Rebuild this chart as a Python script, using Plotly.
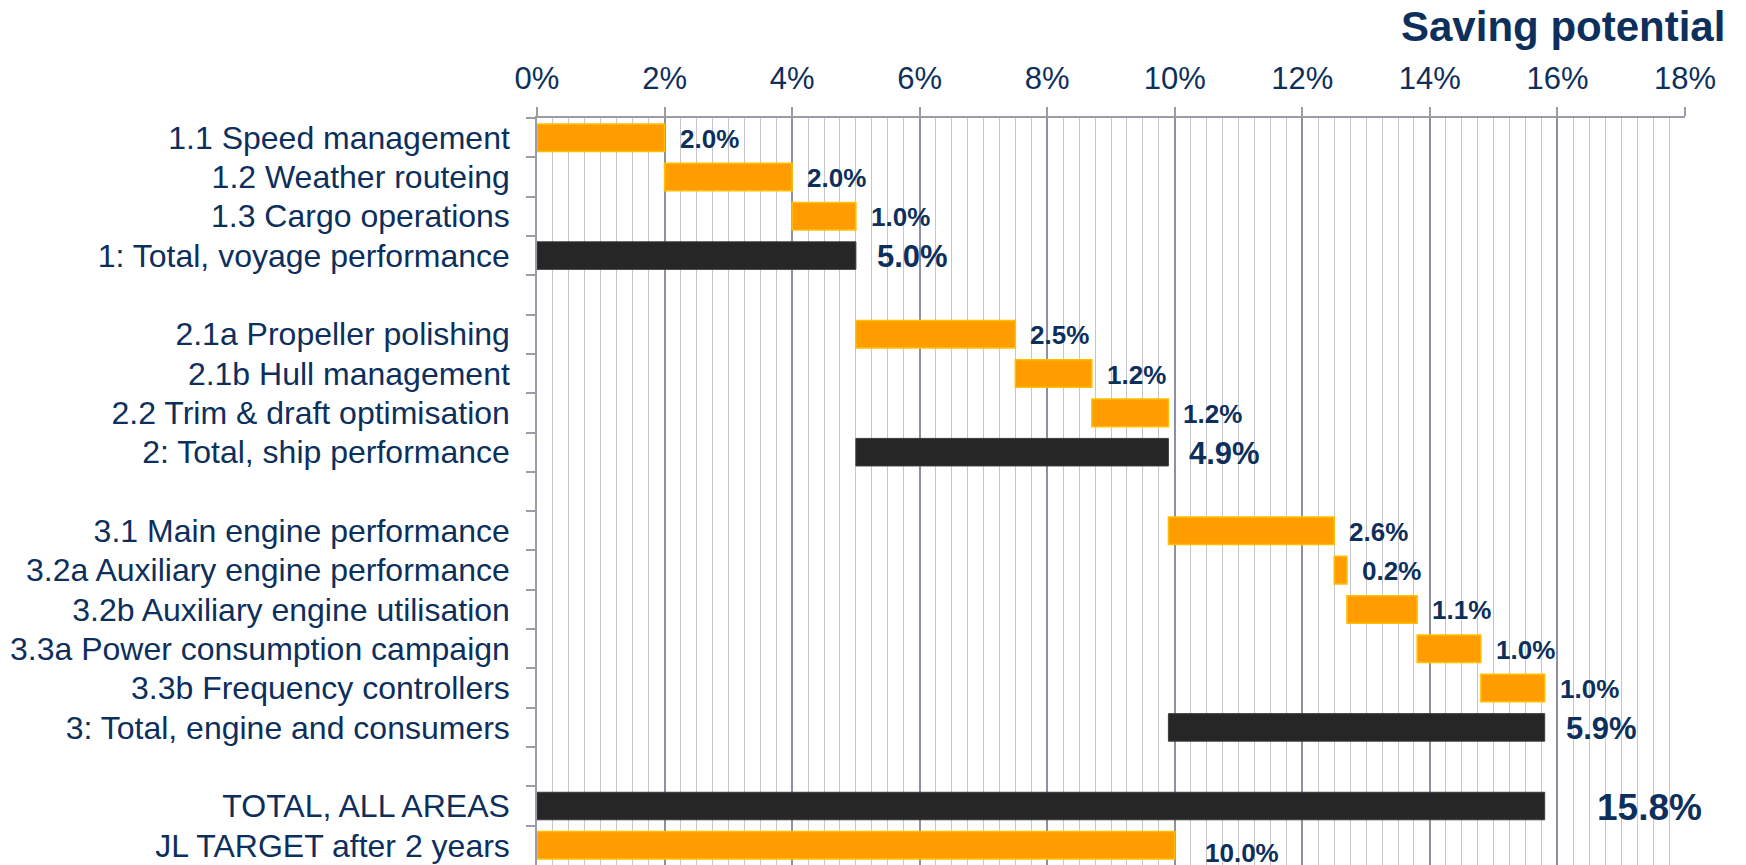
import plotly.graph_objects as go

# Savings measures, in display order (blank entries separate the groups)
measures = [
    "1.1 Speed management",
    "1.2 Weather routeing",
    "1.3 Cargo operations",
    "1: Total, voyage performance",
    "\u200b",
    "2.1a Propeller polishing",
    "2.1b Hull management",
    "2.2 Trim & draft optimisation",
    "2: Total, ship performance",
    "\u200b\u200b",
    "3.1 Main engine performance",
    "3.2a Auxiliary engine performance",
    "3.2b Auxiliary engine utilisation",
    "3.3a Power consumption campaign",
    "3.3b Frequency controllers",
    "3: Total, engine and consumers",
    "\u200b\u200b\u200b",
    "TOTAL, ALL AREAS",
    "JL TARGET after 2 years",
]

# Saving potential in percent (None for spacer rows)
savings = [2.0, 2.0, 1.0, 5.0, None,
           2.5, 1.2, 1.2, 4.9, None,
           2.6, 0.2, 1.1, 1.0, 1.0, 5.9, None,
           15.8, 10.0]

# Row type: step = single measure, subtotal = group total,
# total = all areas, target = company target, gap = spacer
kinds = ["step", "step", "step", "subtotal", "gap",
         "step", "step", "step", "subtotal", "gap",
         "step", "step", "step", "step", "step", "subtotal", "gap",
         "total", "target"]

x_ticks = list(range(0, 19, 2))

# Waterfall bases: steps stack on each other, subtotals span their group
bases = []
running = 0.0
group_start = 0.0
for val, kind in zip(savings, kinds):
    if kind == "step":
        bases.append(running)
        running = round(running + val, 4)
    elif kind == "subtotal":
        bases.append(group_start)
        group_start = running
    elif kind in ("total", "target"):
        bases.append(0.0)
    else:
        bases.append(None)

NAVY = "#0d2f5c"
ORANGE = "#FF9C00"
ORANGE_EDGE = "#FFC000"
DARK = "#262626"
FONT = "Liberation Sans, Arial, sans-serif"

label_style = {
    "step": dict(size=26, shift=13),
    "subtotal": dict(size=31, shift=19),
    "total": dict(size=37, shift=50),
    "target": dict(size=26, shift=28),
}

fig = go.Figure()

def add_bars(selected, color, edge, edge_w):
    idx = [i for i, k in enumerate(kinds) if k in selected]
    fig.add_trace(go.Bar(
        y=[measures[i] for i in idx],
        x=[savings[i] for i in idx],
        base=[bases[i] for i in idx],
        orientation="h",
        marker=dict(color=color, line=dict(color=edge, width=edge_w)),
        hoverinfo="skip",
        showlegend=False,
    ))

add_bars(("step", "target"), ORANGE, ORANGE_EDGE, 1.5)
add_bars(("subtotal", "total"), DARK, "#3c3c3c", 1)

# Value labels to the right of each bar
for name, val, base, kind in zip(measures, savings, bases, kinds):
    if kind == "gap":
        continue
    st = label_style[kind]
    fig.add_annotation(
        x=base + val, y=name, xref="x", yref="y",
        text=f"<b>{val:.1f}%</b>",
        showarrow=False, xanchor="left", yanchor="middle",
        xshift=st["shift"], yshift=-8 if kind == "target" else -1,
        font=dict(family=FONT, size=st["size"], color=NAVY),
    )

fig.add_annotation(
    text="<b>Saving potential</b>", xref="paper", yref="paper",
    x=1.037, y=1.122, xanchor="right", yanchor="middle",
    showarrow=False, font=dict(family=FONT, size=42, color=NAVY),
)

fig.update_layout(
    width=1746, height=865, autosize=False,
    margin=dict(l=537, r=61, t=118, b=0, pad=0),
    paper_bgcolor="white", plot_bgcolor="white",
    barmode="overlay", bargap=0.3,
    font=dict(family=FONT, color=NAVY),
    xaxis=dict(
        side="top", range=[0, 18],
        tickvals=x_ticks, ticktext=[f"{t}%" for t in x_ticks],
        tickfont=dict(size=31, color=NAVY),
        ticklabelstandoff=6,
        showgrid=True, gridcolor="#8d909e", gridwidth=1.5,
        minor=dict(dtick=0.25, tick0=0, showgrid=True,
                   gridcolor="#c5c5cd", gridwidth=1.2, ticks=""),
        showline=True, linecolor="#9a9ca8", linewidth=1.5,
        ticks="outside", ticklen=9, tickcolor="#9a9ca8", tickwidth=1.5,
        zeroline=False, fixedrange=True,
    ),
    yaxis=dict(
        type="category", categoryorder="array", categoryarray=measures,
        autorange="reversed",
        tickfont=dict(size=32, color=NAVY),
        showgrid=False, showline=True, linecolor="#9a9ca8", linewidth=1.5,
        ticks="outside", tickson="boundaries", ticklen=9,
        tickcolor="#9a9ca8", tickwidth=1.5,
        ticklabelstandoff=19,
        fixedrange=True,
    ),
)

fig.write_html("out.html")
